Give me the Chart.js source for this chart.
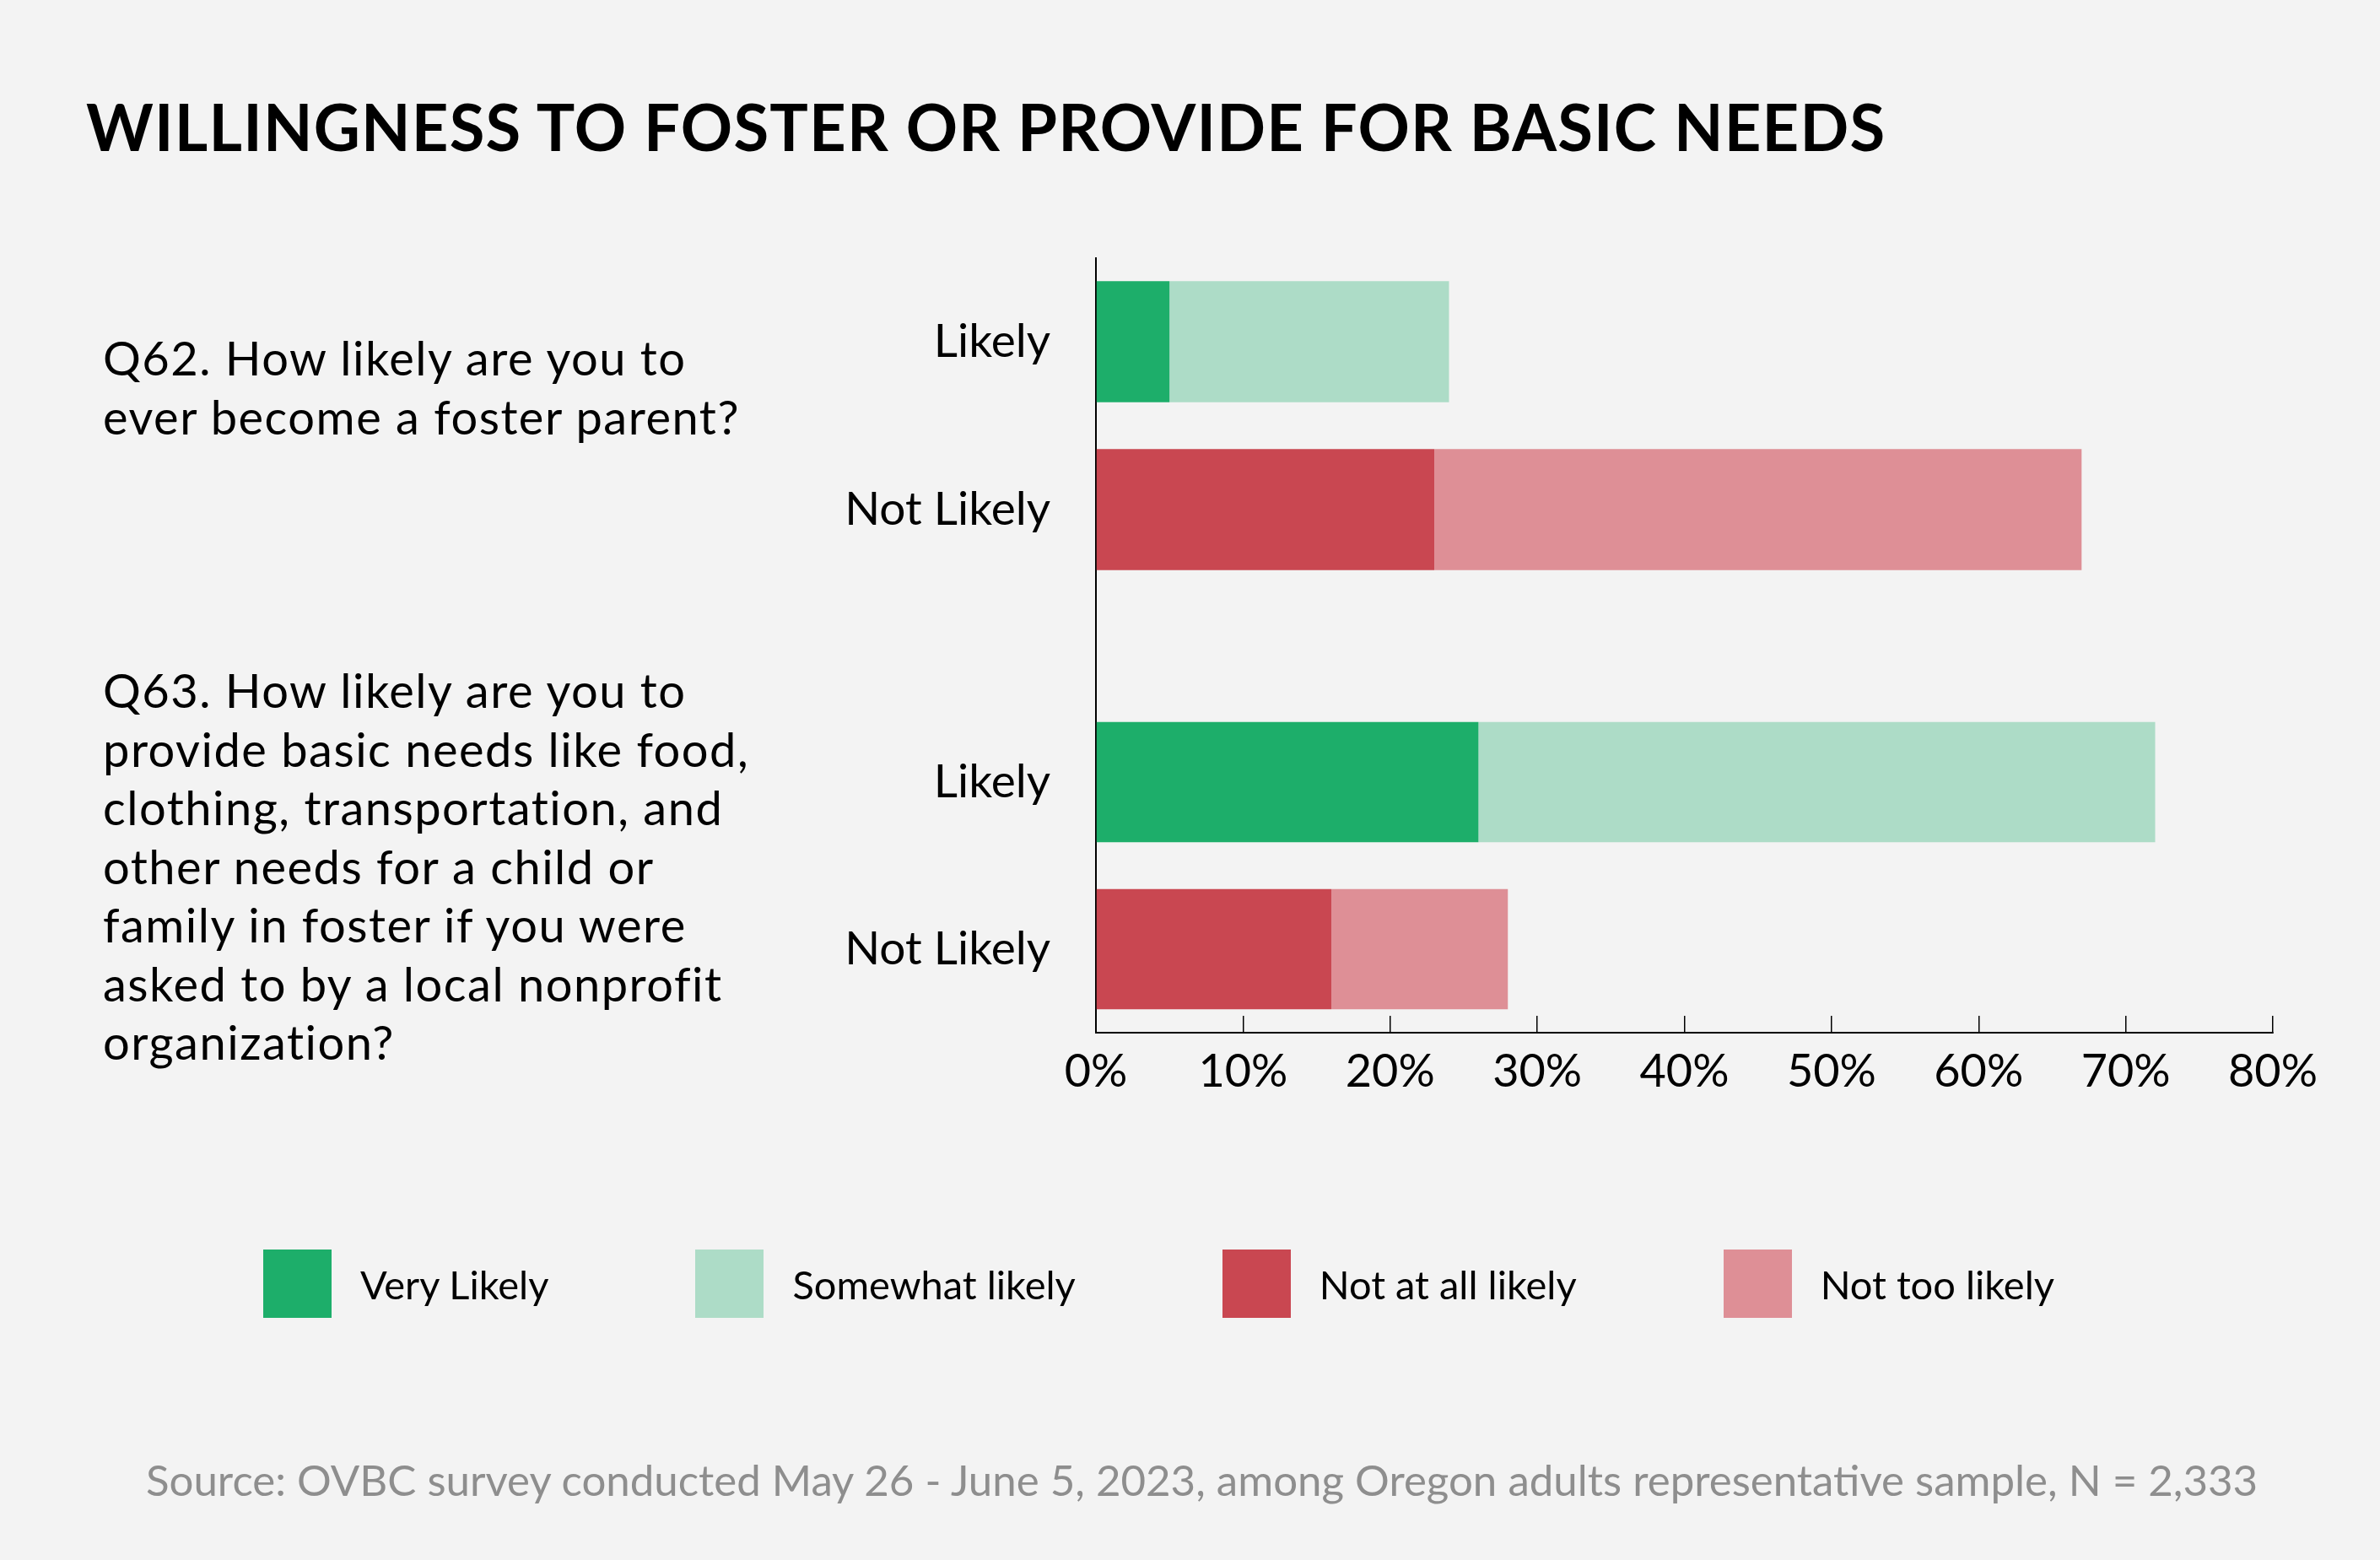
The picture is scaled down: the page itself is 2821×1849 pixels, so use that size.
<!DOCTYPE html>
<html>
<head>
<meta charset="utf-8">
<script src="https://cdn.jsdelivr.net/npm/chart.js@4.4.1/dist/chart.umd.min.js"></script>
<style>
  html, body { margin: 0; padding: 0; }
  body {
    width: 2821px; height: 1849px; position: relative; overflow: hidden;
    background: #f3f3f3; font-family: Lato, 'Open Sans', sans-serif; color: #000;
  }
  #chart { position: absolute; left: 0; top: 0; }
  .title {
    position: absolute; left: 102px; top: 112px; font-size: 76px; line-height: 76px;
    font-weight: 700; letter-spacing: 1.2px; white-space: nowrap;
  }
  .question {
    position: absolute; left: 122px; font-size: 56px; line-height: 69.5px;
    letter-spacing: 1.5px; white-space: pre-line;
  }
  .legend {
    position: absolute; left: 312px; top: 1481px; height: 81px;
    display: flex; align-items: center; gap: 174px;
  }
  .legend .item { display: flex; align-items: center; }
  .legend .swatch { width: 81px; height: 81px; margin-right: 34px; }
  .legend .label { font-size: 47px; white-space: nowrap; }
  .source {
    position: absolute; left: 173px; top: 1722px; font-size: 51px; line-height: 64px;
    color: #8e8e8e; white-space: nowrap;
  }
</style>
</head>
<body>
<div class="title">WILLINGNESS TO FOSTER OR PROVIDE FOR BASIC NEEDS</div>
<div class="question" id="q62" style="top:389px"></div>
<div class="question" id="q63" style="top:783px"></div>
<canvas id="chart" width="2821" height="1849"></canvas>
<div class="legend" id="legend"></div>
<div class="source">Source: OVBC survey conducted May 26 - June 5, 2023, among Oregon adults representative sample, N = 2,333</div>

<script>
(function () {
    'use strict';

    var FONT = "Lato, 'Open Sans', sans-serif";

    // --- data -------------------------------------------------------------
    var questions = [
        'Q62. How likely are you to\never become a foster parent?',
        'Q63. How likely are you to\nprovide basic needs like food,\nclothing, transportation, and\nother needs for a child or\nfamily in foster if you were\nasked to by a local nonprofit\norganization?'
    ];
    var rowLabels = ['Likely', 'Not Likely'];
    var seriesNames = ['Very Likely', 'Somewhat likely', 'Not at all likely', 'Not too likely'];
    var seriesRow = [0, 0, 1, 1];              // which row each series sits in
    var veryLikely = [5, 26];                  // Q62, Q63
    var somewhatLikely = [19, 46];
    var notAtAllLikely = [23, 16];
    var notTooLikely = [44, 12];
    var xTickLabels = ['0%', '10%', '20%', '30%', '40%', '50%', '60%', '70%', '80%'];

    var seriesValues = [veryLikely, somewhatLikely, notAtAllLikely, notTooLikely];
    var COLORS = ['#1dae6a', '#addcc7', '#c94751', '#de8f96'];
    var AXIS_IDS = ['q62', 'q63'];

    // --- question texts + legend -----------------------------------------
    document.getElementById('q62').textContent = questions[0];
    document.getElementById('q63').textContent = questions[1];

    var legend = document.getElementById('legend');
    seriesNames.forEach(function (name, i) {
        var item = document.createElement('div');
        item.className = 'item';
        item.innerHTML = '<div class="swatch" style="background:' + COLORS[i] + '"></div>' +
            '<div class="label"></div>';
        item.querySelector('.label').textContent = name;
        legend.appendChild(item);
    });

    // --- datasets: one per series per question ---------------------------
    var datasets = [];
    AXIS_IDS.forEach(function (axisId, q) {
        seriesNames.forEach(function (name, s) {
            var data = rowLabels.map(function (r, row) {
                return row === seriesRow[s] ? seriesValues[s][q] : null;
            });
            datasets.push({
                label: name,
                data: data,
                yAxisID: axisId,
                stack: axisId,
                grouped: false,
                backgroundColor: COLORS[s],
                borderWidth: 0,
                barPercentage: 0.72,
                categoryPercentage: 1
            });
        });
    });

    var Y_AXIS_W = 320;
    function fixWidth(scale) { scale.width = Y_AXIS_W; }

    function rowAxis(weight, stackWeight, labels, showTicks) {
        return {
            type: 'category',
            axis: 'y',
            position: 'left',
            labels: labels,
            offset: true,
            stacked: true,
            stack: 'rows',
            stackWeight: stackWeight,
            weight: weight,
            afterFit: fixWidth,
            grid: { display: false },
            border: { display: true, color: '#000', width: 2 },
            ticks: {
                display: showTicks,
                padding: 46,
                color: '#000',
                font: { family: FONT, size: 55 }
            }
        };
    }

    new Chart(document.getElementById('chart'), {
        type: 'bar',
        data: { datasets: datasets },
        options: {
            indexAxis: 'y',
            responsive: false,
            animation: false,
            layout: { padding: { top: 305.5, left: 1299 - Y_AXIS_W, right: 127, bottom: 525 } },
            plugins: {
                legend: { display: false },
                tooltip: { enabled: false }
            },
            scales: {
                x: {
                    type: 'linear',
                    position: 'bottom',
                    min: 0,
                    max: 80,
                    stacked: true,
                    afterFit: function (scale) { scale.height = 100; },
                    grid: {
                        drawOnChartArea: false,
                        drawTicks: true,
                        tickLength: -20,
                        color: '#000',
                        lineWidth: 1.5
                    },
                    border: { display: true, color: '#000', width: 2 },
                    ticks: {
                        stepSize: 10,
                        padding: 34,
                        color: '#000',
                        font: { family: FONT, size: 54 },
                        callback: function (v, i) { return xTickLabels[i]; }
                    }
                },
                q62: rowAxis(3, 398, rowLabels, true),
                gap: rowAxis(2, 124.5, [''], false),
                q63: rowAxis(1, 396, rowLabels, true)
            }
        }
    });
})();
</script>
</body>
</html>
